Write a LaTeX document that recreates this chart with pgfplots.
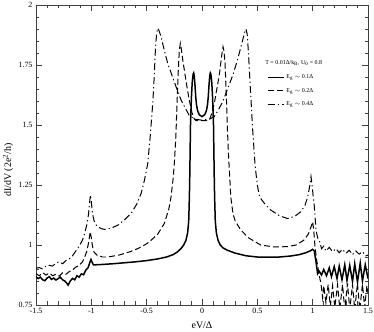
\documentclass[border=0pt]{standalone}
\usepackage{pgfplots}
\pgfplotsset{compat=1.18}
\usepackage{fontspec}
\setmainfont{Liberation Serif}

\begin{document}
\begin{tikzpicture}
\begin{axis}[
  name=ax,
  scale only axis,
  width=332bp, height=300bp,
  xmin=-1.5, xmax=1.5, ymin=0.75, ymax=2,
  xtick={-1.5,-1,-0.5,0,0.5,1,1.5},
  xticklabels={-1.5,-1,-0.5,0,0.5,1,1.5},
  ytick={0.75,1,1.25,1.5,1.75,2},
  yticklabels={0.75,1,1.25,1.5,1.75,2},
  minor x tick num=4, minor y tick num=4,
  tick align=inside,
  major tick length=6bp, minor tick length=3.5bp,
  axis line style={black!75, line width=0.8pt},
  every tick/.style={black!75, line width=0.7pt},
  tick label style={font=\fontsize{8}{9}\selectfont},
  /pgf/number format/assume math mode=true,
  xlabel={eV/Δ},
  ylabel={dI/dV (2e\textsuperscript{2}/h)},
  label style={font=\fontsize{10}{11}\selectfont},
  xlabel style={at={(axis description cs:0.5,-0.067)}, anchor=center},
  ylabel style={at={(axis description cs:-0.084,0.45)}, anchor=center},
  legend style={draw=none, fill=none, at={(0.695,0.775)}, anchor=north west,
    font=\fontsize{6}{7}\selectfont, row sep=4pt, inner sep=0pt},
  legend cell align=left,
  legend image code/.code={\draw[#1] (0bp,0bp) -- (16bp,0bp);},
  clip mode=global,
]
\addplot[black, line width=1.5pt] coordinates {
(-1.50,0.868) (-1.48,0.860) (-1.46,0.866) (-1.44,0.855) (-1.42,0.851) (-1.40,0.862)
(-1.38,0.868) (-1.36,0.857) (-1.34,0.862) (-1.32,0.854) (-1.30,0.860) (-1.28,0.866)
(-1.26,0.855) (-1.24,0.850) (-1.22,0.840) (-1.21,0.833) (-1.19,0.850) (-1.17,0.861)
(-1.15,0.855) (-1.13,0.872) (-1.11,0.866) (-1.09,0.880) (-1.07,0.876) (-1.05,0.895)
(-1.03,0.905) (-1.015,0.925) (-1.003,0.940) (-0.99,0.925) (-0.98,0.917)
(-0.90,0.919) (-0.80,0.922) (-0.70,0.926) (-0.60,0.930) (-0.50,0.935) (-0.40,0.942)
(-0.32,0.950) (-0.26,0.960) (-0.22,0.972) (-0.19,0.985) (-0.165,1.000) (-0.145,1.020)
(-0.13,1.050) (-0.12,1.100) (-0.114,1.200) (-0.110,1.300) (-0.107,1.400) (-0.104,1.500)
(-0.100,1.560) (-0.095,1.620) (-0.088,1.680) (-0.080,1.712) (-0.075,1.717) (-0.070,1.705)
(-0.064,1.670) (-0.057,1.620) (-0.050,1.585) (-0.040,1.560) (-0.025,1.543) (0,1.535)
(0.025,1.543) (0.040,1.560) (0.050,1.585) (0.057,1.620) (0.064,1.670) (0.070,1.705)
(0.075,1.717) (0.080,1.712) (0.088,1.680) (0.095,1.620) (0.100,1.560) (0.104,1.500)
(0.107,1.400) (0.110,1.300) (0.114,1.200) (0.120,1.100) (0.130,1.050) (0.145,1.020)
(0.165,1.000) (0.19,0.988) (0.23,0.978) (0.30,0.966) (0.40,0.955) (0.50,0.950)
(0.60,0.949) (0.70,0.950) (0.80,0.954) (0.88,0.960) (0.94,0.968) (0.98,0.976)
(1.00,0.982) (1.015,0.975) (1.03,0.930) (1.045,0.880)
(1.06,0.890) (1.08,0.875) (1.10,0.898) (1.125,0.872) (1.15,0.905) (1.17,0.868)
(1.195,0.910) (1.22,0.860) (1.24,0.912) (1.265,0.855) (1.29,0.918) (1.31,0.852)
(1.335,0.915) (1.36,0.848) (1.38,0.922) (1.405,0.845) (1.43,0.925) (1.45,0.850)
(1.475,0.918) (1.50,0.860)
};
\addlegendentry{E\textsubscript{g} $\sim$ 0.1Δ}
\addplot[black, line width=1.0pt, dash pattern=on 6bp off 3bp] coordinates {
(-1.50,0.880) (-1.47,0.872) (-1.44,0.885) (-1.41,0.875) (-1.38,0.883) (-1.35,0.872)
(-1.32,0.878) (-1.29,0.870) (-1.26,0.884) (-1.23,0.878) (-1.20,0.889) (-1.17,0.896)
(-1.14,0.908) (-1.11,0.915) (-1.08,0.930) (-1.06,0.950) (-1.04,0.975) (-1.025,1.010)
(-1.01,1.055) (-1.00,1.030) (-0.99,0.995) (-0.975,0.970) (-0.95,0.958) (-0.90,0.950)
(-0.85,0.950) (-0.75,0.958) (-0.65,0.972) (-0.58,0.985) (-0.50,1.005) (-0.46,1.020)
(-0.40,1.045) (-0.34,1.090) (-0.30,1.150) (-0.28,1.200) (-0.26,1.280) (-0.25,1.340)
(-0.24,1.420) (-0.235,1.466) (-0.225,1.600) (-0.214,1.730) (-0.205,1.810) (-0.196,1.840)
(-0.188,1.820) (-0.175,1.775) (-0.160,1.730) (-0.140,1.670) (-0.115,1.604) (-0.090,1.550)
(-0.070,1.525) (-0.054,1.518) (0.054,1.518) (0.070,1.525) (0.090,1.550) (0.115,1.600)
(0.140,1.665) (0.160,1.720) (0.178,1.790) (0.190,1.826) (0.198,1.810) (0.208,1.760)
(0.220,1.620) (0.230,1.480) (0.240,1.370) (0.250,1.290) (0.260,1.200) (0.280,1.130)
(0.300,1.100) (0.350,1.0625) (0.420,1.030) (0.530,1.000) (0.650,0.992) (0.770,0.993)
(0.850,1.000) (0.920,1.020) (0.960,1.045) (0.985,1.075) (1.000,1.097) (1.01,1.060)
(1.02,1.000) (1.035,0.940) (1.05,0.900) (1.065,0.860) (1.075,0.840)
(1.09,0.78) (1.10,0.83) (1.12,0.76) (1.14,0.835) (1.16,0.745) (1.18,0.83) (1.20,0.74)
(1.225,0.835) (1.245,0.735) (1.27,0.835) (1.29,0.73) (1.315,0.84) (1.335,0.73)
(1.36,0.835) (1.38,0.73) (1.405,0.84) (1.425,0.73) (1.45,0.835) (1.47,0.74)
(1.49,0.83) (1.50,0.80)
};
\addlegendentry{E\textsubscript{g} $\sim$ 0.2Δ}
\addplot[black, line width=1.0pt, dash pattern=on 7bp off 3bp on 1.2bp off 3bp] coordinates {
(-1.50,0.903) (-1.47,0.906) (-1.44,0.900) (-1.41,0.912) (-1.38,0.915) (-1.35,0.912)
(-1.32,0.925) (-1.29,0.930) (-1.26,0.922) (-1.23,0.935) (-1.20,0.942) (-1.17,0.955)
(-1.14,0.975) (-1.11,0.995) (-1.08,1.020) (-1.06,1.050) (-1.04,1.085) (-1.025,1.130)
(-1.015,1.180) (-1.008,1.208) (-1.000,1.180) (-0.990,1.132) (-0.975,1.100) (-0.960,1.085)
(-0.940,1.076) (-0.910,1.068) (-0.880,1.065) (-0.820,1.070) (-0.760,1.083) (-0.700,1.105)
(-0.640,1.132) (-0.590,1.170) (-0.550,1.215) (-0.520,1.270) (-0.490,1.340) (-0.467,1.458)
(-0.450,1.560) (-0.436,1.660) (-0.420,1.826) (-0.410,1.880) (-0.400,1.903) (-0.390,1.895)
(-0.370,1.868) (-0.340,1.810) (-0.310,1.757) (-0.270,1.705) (-0.235,1.660) (-0.190,1.605)
(-0.145,1.565) (-0.115,1.540) (-0.070,1.525) (0,1.520) (0.070,1.525) (0.111,1.535)
(0.145,1.560) (0.190,1.600) (0.235,1.655) (0.280,1.710) (0.320,1.770) (0.360,1.840)
(0.385,1.885) (0.397,1.900) (0.408,1.880) (0.420,1.800) (0.436,1.660) (0.458,1.479)
(0.480,1.330) (0.500,1.250) (0.520,1.200) (0.570,1.170) (0.620,1.146) (0.700,1.122)
(0.774,1.110) (0.840,1.120) (0.894,1.139) (0.930,1.165) (0.955,1.200) (0.975,1.250)
(0.985,1.285) (0.995,1.250) (1.005,1.200) (1.015,1.160) (1.030,1.0625) (1.045,1.030)
(1.060,1.020) (1.08,0.985) (1.10,0.995) (1.12,0.975) (1.15,0.990) (1.18,0.972)
(1.21,0.985) (1.24,0.968) (1.27,0.982) (1.30,0.965) (1.33,0.978) (1.36,0.960)
(1.39,0.975) (1.42,0.962) (1.45,0.972) (1.48,0.955) (1.50,0.958)
};
\addlegendentry{E\textsubscript{g} $\sim$ 0.4Δ}
\node[anchor=west, font=\fontsize{6}{7}\selectfont, inner sep=0pt] at (rel axis cs:0.69,0.807)
  {T = 0.01Δ/k\textsubscript{B}, U\textsubscript{0} = 0.8};
\end{axis}
\pgfresetboundingbox
\path ([shift={(-36bp,-27bp)}]ax.south west) rectangle ([shift={(6bp,5bp)}]ax.north east);
\end{tikzpicture}
\end{document}
